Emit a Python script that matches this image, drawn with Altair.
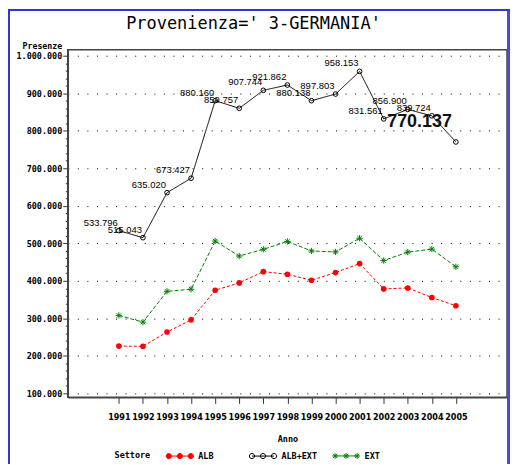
import altair as alt
import pandas as pd

# ---------------- data ----------------
anni = list(range(1991, 2006))
settori = ["ALB", "ALB+EXT", "EXT"]
alb_ext = [533796, 515043, 635020, 673427, 880160, 859757, 907744, 921862,
           880138, 897803, 958153, 831561, 856900, 839724, 770137]
alb = [226000, 225500, 263500, 296000, 375000, 394500, 424500, 417500,
       401500, 422000, 446000, 378500, 381000, 355500, 333500]
ext = [307700, 289900, 372000, 377600, 506000, 466000, 484000, 505000,
       479500, 477000, 513500, 454000, 476500, 484500, 437500]
colori = ["#ff0000", "#000000", "#008000"]
riempimenti = ["#ff0000", "transparent", "transparent"]
titolo = "Provenienza=' 3-GERMANIA'"

rows = []
for s, serie in zip(settori, [alb, alb_ext, ext]):
    for a, v in zip(anni, serie):
        rows.append({"anno": a, "settore": s, "valore": v})
df = pd.DataFrame(rows)

x_ticks = [a + q / 4 for a in anni for q in range(4) if not (a == anni[-1] and q > 0)]
y_ticks = list(range(100000, 1000001, 20000))

MONO = "DejaVu Sans Mono"
NARROW = "'Liberation Sans Narrow', 'DejaVu Sans Condensed', 'Liberation Sans'"
SANS = "'Liberation Sans', Arial"

X = alt.X(
    "anno:Q",
    scale=alt.Scale(domain=[1988.877, 2007.123], nice=False, zero=False),
    axis=alt.Axis(
        values=x_ticks, format="d",
        labelExpr="datum.value % 1 === 0 ? datum.label : ''",
        labelOverlap=False, labelFlush=False,
        tickSize={"condition": {"test": "datum.value % 1 === 0", "value": 6}, "value": 3},
        tickColor="#333", domainColor="#444", domainWidth=1.5,
        labelFont=NARROW, labelFontSize=9, labelFontWeight="bold", labelColor="black",
        labelPadding=9, grid=False,
        title="Anno", titleFont=MONO, titleFontSize=8.5, titleFontWeight="bold",
        titleColor="black", titleY=41, titleBaseline="middle",
    ),
)
Y = alt.Y(
    "valore:Q",
    scale=alt.Scale(domain=[89400, 1015900], nice=False, zero=False),
    axis=alt.Axis(
        values=y_ticks, format=",d",
        labelExpr="datum.value % 100000 === 0 ? datum.label : ''",
        labelOverlap=False, labelFlush=False,
        tickSize={"condition": {"test": "datum.value % 100000 === 0", "value": 5}, "value": 2.5},
        tickColor="#333", domainColor="#444", domainWidth=1.5,
        labelFont=MONO, labelFontSize=8.5, labelFontWeight="bold", labelColor="black",
        labelPadding=1,
        grid=True, gridColor="black", gridDash=[1, 8.6], gridWidth=1,
        gridOpacity={"condition": {"test": "datum.value % 100000 === 0", "value": 1}, "value": 0},
        title="Presenze", titleAngle=0, titleX=-26, titleY=-3, titleAlign="center",
        titleBaseline="middle", titleFont=MONO, titleFontSize=8.3, titleFontWeight="bold",
        titleColor="black",
    ),
)

def tre(shape_fn):
    return "".join(shape_fn(c) for c in (-0.85, 0.0, 0.85))

def cerchio(c):
    r = 0.2
    return (f"M{c + r:.3f},0A{r},{r},0,1,1,{c - r:.3f},0"
            f"A{r},{r},0,1,1,{c + r:.3f},0Z")

def stella(c):
    r, d = 0.22, 0.16
    return (f"M{c - r:.3f},0L{c + r:.3f},0M{c:.3f},{-r}L{c:.3f},{r}"
            f"M{c - d:.3f},{-d}L{c + d:.3f},{d}M{c - d:.3f},{d}L{c + d:.3f},{-d}")

linea = "M-0.85,0L0.85,0"
path_cerchi = linea + tre(cerchio)
path_stelle = linea + tre(stella)
star = "M-1,0L1,0M0,-1L0,1M-0.7,-0.7L0.7,0.7M-0.7,0.7L0.7,-0.7"

legend = alt.Legend(
    orient="none", legendX=47, legendY=394, direction="horizontal", columns=3,
    title="Settore", titleOrient="left", titleFont=MONO, titleFontSize=8.5,
    titleFontWeight="bold", titleColor="black", titlePadding=16,
    titleAnchor="middle", titleBaseline="top",
    labelFont=MONO, labelFontSize=8.5, labelFontWeight="bold", labelColor="black",
    labelOffset=5, symbolSize=676, symbolStrokeWidth=1, gridAlign="all",
    columnPadding=12.5, padding=0, symbolOpacity=1,
)

base = alt.Chart(df)

def serie_linea(nome, colore, dash):
    return base.transform_filter(f"datum.settore === '{nome}'").mark_line(
        strokeWidth=1, color=colore, strokeDash=dash).encode(x=X, y=Y)

linee = [serie_linea("EXT", colori[2], [4, 2]),
         serie_linea("ALB", colori[0], [3, 2]),
         serie_linea("ALB+EXT", colori[1], [1, 0])]

punti_alb = base.transform_filter("datum.settore === 'ALB'").mark_point(
    filled=True, shape="circle", size=32, color="#ff0000", opacity=1
).encode(x=X, y=Y)
punti_tot = base.transform_filter("datum.settore === 'ALB+EXT'").mark_point(
    filled=False, shape="circle", size=22, color="#000000", strokeWidth=1, opacity=1
).encode(x=X, y=Y)
punti_ext = base.transform_filter("datum.settore === 'EXT'").mark_point(
    filled=False, shape=star, size=40, color="#008000", strokeWidth=1, opacity=1
).encode(x=X, y=Y)

# legend-only layer (no data rows survive the filter)
legenda = base.transform_filter("false").mark_point(strokeWidth=1, opacity=1).encode(
    x=X, y=Y,
    shape=alt.Shape("settore:N", scale=alt.Scale(domain=settori,
                    range=[path_cerchi, path_cerchi, path_stelle]), legend=legend),
    fill=alt.Fill("settore:N", scale=alt.Scale(domain=settori, range=riempimenti), legend=legend),
    stroke=alt.Stroke("settore:N", scale=alt.Scale(domain=settori, range=colori), legend=legend),
)

etichette = base.transform_filter(
    "datum.settore === 'ALB+EXT' && datum.anno < 2005"
).mark_text(align="right", baseline="alphabetic", dx=-1, dy=-5,
            font=SANS, fontSize=9.5, color="black").encode(
    x=X, y=Y, text=alt.Text("valore:Q", format=",d"))

etichetta_big = base.transform_filter(
    "datum.settore === 'ALB+EXT' && datum.anno === 2005"
).mark_text(align="right", baseline="alphabetic", dx=-4, dy=-15,
            font=SANS, fontSize=18, fontWeight="bold", color="#111").encode(
    x=X, y=Y, text=alt.Text("valore:Q", format=",d"))

cornice = pd.DataFrame({"k": [0]})
bordo_sx = alt.Chart(cornice).mark_rule(color="#3434d4", strokeWidth=2).encode(
    x=alt.value(-59), y=alt.value(-41), y2=alt.value(416))
bordo_dx = alt.Chart(cornice).mark_rule(color="#4a4ae0", strokeWidth=3).encode(
    x=alt.value(442.5), y=alt.value(-41), y2=alt.value(416))
bordo_su = alt.Chart(cornice).mark_rule(color="#3434d4", strokeWidth=2).encode(
    x=alt.value(-60), x2=alt.value(444), y=alt.value(-40))

chart = alt.layer(
    bordo_sx, bordo_dx, bordo_su, *linee,
    punti_alb, punti_tot, punti_ext, legenda, etichette, etichetta_big,
).properties(
    width=441, height=349,
    autosize=alt.AutoSizeParams(type="none"),
    padding={"left": 60, "top": 41, "right": 3, "bottom": 67},
    title=alt.TitleParams(titolo, font=MONO, fontSize=17, fontWeight="normal",
                          color="black", anchor="middle", dx=-34, dy=19, offset=-20,
                          baseline="alphabetic"),
).configure(
    locale={"number": {"decimal": ",", "thousands": ".", "grouping": [3],
                       "currency": ["", " €"]}},
).configure_view(stroke="#444", strokeWidth=1.5)

chart.save("out.html", embed_options={"renderer": "svg", "actions": False})
